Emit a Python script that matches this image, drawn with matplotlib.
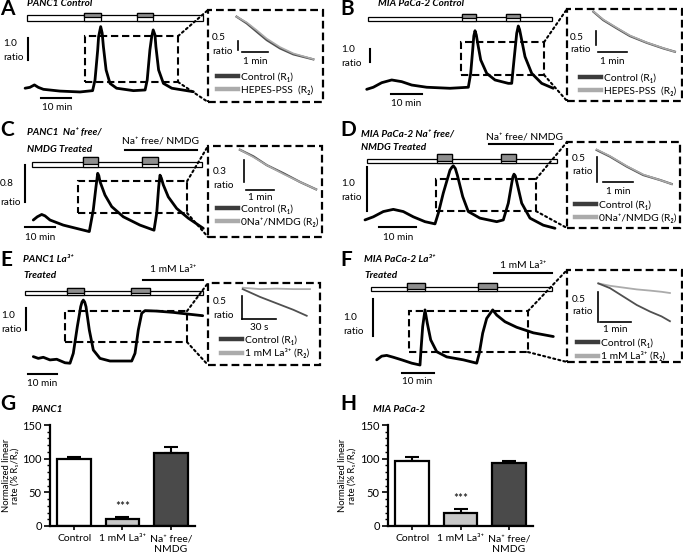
import matplotlib
matplotlib.use("Agg")
import matplotlib.pyplot as plt
from matplotlib.patches import Rectangle, ConnectionPatch
from matplotlib.lines import Line2D
from matplotlib.ticker import MultipleLocator

plt.rcParams.update({
    "font.family": ["Lato", "DejaVu Sans"],
    "font.size": 7,
})

W, H = 683, 554
DARK = "#3c3c3c"
LIGHT = "#ababab"
PULSE = "#8e8e8e"

# ---- traces: time (min), fura-2 ratio; insets: R1 / R2 ----
A_t = [1.7, 3.3, 4.8, 6.1, 7.8, 13.3, 20.0, 24.2, 25.0, 25.9, 26.2, 26.9, 27.4, 27.8, 28.7, 30.0,
       32.2, 37.8, 41.7, 42.4, 43.3, 43.9, 44.4, 45.0, 45.3, 46.2, 47.8, 50.6, 57.8]
A_r = [0.99, 1.03, 1.14, 1.03, 0.94, 0.86, 0.82, 0.88, 1.36, 2.73, 3.33, 3.79, 3.49, 2.88, 1.82, 1.21,
       0.99, 0.88, 0.91, 1.36, 2.73, 3.33, 3.64, 3.41, 2.88, 1.82, 1.21, 0.99, 0.83]
A_pulses = [(21.3, 27.0), (39.0, 44.3)]
A_in_t = [1.10, 1.49, 1.87, 2.26, 2.77, 3.28, 4.05]
A_in_r1 = [4.74, 4.37, 3.91, 3.44, 2.98, 2.65, 2.37]
A_in_r2 = [4.74, 4.42, 3.99, 3.52, 3.05, 2.70, 2.38]

B_t = [2.16, 4.29, 7.0, 10.23, 13.45, 16.68, 21.52, 29.03, 34.94, 35.71, 36.35, 36.71, 37.10, 37.52,
       37.97, 38.94, 40.87, 43.55, 47.84, 48.94, 49.68, 50.55, 51.06, 51.48, 51.94, 53.23, 55.39,
       58.61, 62.35]
B_r = [1.59, 1.75, 2.10, 2.31, 2.18, 1.92, 1.75, 1.67, 1.75, 2.82, 4.62, 5.69, 6.10, 5.77,
       5.13, 3.85, 2.82, 2.31, 2.05, 2.05, 3.85, 5.90, 6.46, 6.19, 5.64, 4.10, 2.82,
       2.05, 1.67]
B_pulses = [(32.9, 37.4), (47.1, 51.6)]
B_in_t = [0.91, 1.25, 1.71, 2.17, 2.75, 3.32, 3.72]
B_in_r1 = [3.19, 2.89, 2.60, 2.32, 2.08, 1.88, 1.76]
B_in_r2 = [3.20, 2.91, 2.62, 2.34, 2.09, 1.89, 1.76]

C_t = [4.43, 5.77, 7.23, 8.33, 10.0, 14.43, 20.0, 23.1, 24.43, 25.33, 25.9, 26.27, 26.67, 28.33,
       30.57, 34.43, 40.0, 44.67, 45.57, 46.23, 46.67, 47.1, 47.77, 49.43, 52.23, 56.1, 61.1]
C_r = [0.54, 0.61, 0.66, 0.63, 0.54, 0.43, 0.34, 0.29, 0.76, 1.26, 1.55, 1.50, 1.37, 1.08,
       0.83, 0.61, 0.43, 0.32, 0.69, 1.26, 1.51, 1.45, 1.30, 1.04, 0.79, 0.58, 0.36]
C_pulses = [(21.0, 26.0), (40.7, 46.0)]
C_in_t = [1.14, 1.62, 2.10, 2.69, 3.29, 3.86]
C_in_r1 = [1.19, 1.10, 0.98, 0.87, 0.75, 0.65]
C_in_r2 = [1.19, 1.09, 0.98, 0.86, 0.75, 0.65]

D_t = [1.35, 3.59, 6.30, 9.0, 11.70, 14.41, 17.57, 20.27, 21.16, 22.51, 24.32, 24.86, 25.22, 25.76,
       26.30, 27.76, 29.27, 32.43, 36.95, 38.73, 40.08, 41.0, 41.32, 41.62, 41.97, 42.35, 43.70,
       45.95, 49.54, 52.70]
D_r = [0.57, 0.64, 0.76, 0.81, 0.76, 0.64, 0.53, 0.48, 0.72, 1.18, 1.70, 1.77, 1.80, 1.74,
       1.59, 1.10, 0.76, 0.61, 0.53, 0.57, 0.95, 1.40, 1.55, 1.61, 1.57, 1.44, 0.95,
       0.61, 0.45, 0.38]
D_pulses = [(20.8, 24.86), (38.1, 42.16)]
D_in_t = [0.99, 1.43, 1.99, 2.54, 3.10, 3.49]
D_in_r1 = [1.56, 1.43, 1.23, 1.06, 0.96, 0.88]
D_in_r2 = [1.57, 1.44, 1.24, 1.07, 0.96, 0.88]

E_t = [4.59, 6.31, 8.03, 10.34, 12.66, 15.52, 17.24, 18.38, 19.76, 20.93, 21.38, 21.83, 22.31,
       22.76, 23.90, 25.28, 27.59, 31.03, 38.52, 39.66, 40.79, 41.97, 43.10, 47.14, 52.86, 57.48, 63.0]
E_r = [1.29, 1.21, 1.26, 1.14, 1.17, 1.01, 0.99, 1.44, 2.65, 3.56, 3.77, 3.86, 3.77,
       3.56, 2.50, 1.59, 1.21, 1.09, 1.09, 1.44, 2.50, 3.26, 3.38, 3.36, 3.30, 3.23, 3.15]
E_pulses = [(16.2, 22.1), (38.3, 44.8)]
E_in_t = [30.6, 45.9, 60.6, 75.3, 87.1]          # seconds
E_in_r1 = [1.65, 1.48, 1.34, 1.20, 1.07]
E_in_t2 = [30.6, 45.9, 60.6, 75.3, 90.0]
E_in_r2 = [1.68, 1.65, 1.66, 1.65, 1.65]

F_t = [5.22, 6.78, 8.34, 10.41, 13.03, 16.16, 18.75, 19.06, 19.59, 20.31, 21.03, 22.09, 23.97,
       27.09, 32.28, 36.47, 37.28, 38.34, 39.59, 41.47, 42.72, 45.31, 48.97, 54.16, 60.41]
F_r = [0.68, 0.78, 0.80, 0.75, 0.68, 0.59, 0.54, 0.95, 1.58, 2.03, 1.67, 1.22, 0.90,
       0.76, 0.68, 0.59, 0.86, 1.40, 1.80, 2.03, 1.89, 1.71, 1.56, 1.41, 1.31]
F_pulses = [(14.7, 20.3), (36.9, 42.8)]
F_in_t = [1.01, 1.39, 1.82, 2.25, 2.68, 3.05, 3.32]
F_in_r1 = [1.31, 1.23, 1.09, 0.95, 0.84, 0.76, 0.68]
F_in_r2 = [1.31, 1.27, 1.24, 1.21, 1.19, 1.17, 1.15]

# ---- bar summary (normalized linear rate, % R1/R2) ----
conditions = ["Control", "1 mM La³⁺", "Na⁺ free/\nNMDG"]
G_mean = [99, 10, 108]
G_sem = [3.5, 3.5, 10]
H_mean = [97, 19, 94]
H_sem = [6, 6, 3]
bar_colors = ["white", "#c8c8c8", "#4a4a4a"]


fig = plt.figure(figsize=(W / 100, H / 100), dpi=100)


def box(x0, y0, x1, y1):
    return [x0 / W, 1 - y1 / H, (x1 - x0) / W, (y1 - y0) / H]


def ftext(x, y, s, **kw):
    kw.setdefault("va", "center")
    kw.setdefault("ha", "left")
    fig.text(x / W, 1 - y / H, s, **kw)


# layout of each trace panel (pixel boxes, px per min / per ratio unit, annotation positions)
LAYOUT = {
    "A": dict(box=(20, 8, 205, 110), ppm=3.0, ppr=22, sol=(2.3, 61.0, 4.05, 4.32, 4.41),
              rect=(21.7, 52.7, 1.27, 3.36), vbar=(2.67, 2.27, 3.27), hbar=(7, 17, 0.545),
              treat=None, ibox=(208, 10, 323, 102), ippm=26, ippr=18,
              ivbar=(1.15, 2.89, 3.39), ihbar=(1.31, 2.31, 2.78)),
    "B": dict(box=(360, 8, 560, 110), ppm=3.1, ppr=13, sol=(2.58, 61.9, 6.87, 7.18, 7.38),
              rect=(32.6, 59.4, 2.69, 5.23), vbar=(3.2, 3.69, 4.69), hbar=(10, 20, 1.23),
              treat=None, ibox=(567, 9, 682, 101), ippm=29, ippr=28,
              ivbar=(1.0, 2.0, 2.5), ihbar=(1.07, 2.07, 1.75)),
    "C": dict(box=(20, 150, 205, 245), ppm=3.0, ppr=46.25, sol=(4.0, 60.7, 1.69, 1.79, 1.90),
              rect=(19.3, 55.7, 0.69, 1.38), vbar=(1.67, 0.93, 1.73), hbar=(1.67, 11.67, 0.39),
              treat=(35, 59, 2.05), ibox=(208, 146, 322, 237), ippm=28, ippr=73.3,
              ivbar=(1.29, 0.75, 1.05), ihbar=(1.36, 2.36, 0.64)),
    "D": dict(box=(360, 150, 560, 245), ppm=3.7, ppr=44, sol=(1.89, 53.24, 1.86, 1.95, 2.07),
              rect=(20.54, 47.57, 0.77, 1.5), vbar=(1.89, 0.77, 1.77), hbar=(5.14, 15.14, 0.41),
              treat=(34.9, 52.2, 2.30), ibox=(567, 142, 680, 228), ippm=30, ippr=50,
              ivbar=(1.0, 0.92, 1.42), ihbar=(1.2, 2.2, 0.92)),
    "E": dict(box=(20, 280, 205, 385), ppm=2.9, ppr=22, sol=(1.72, 63.1, 4.09, 4.27, 4.41),
              rect=(15.52, 57.59, 1.95, 3.36), vbar=(2.07, 2.5, 3.5), hbar=(2.76, 12.76, 0.5),
              treat=(42.4, 63.1, 4.77), ibox=(208, 283, 320, 365), ippm=34 / 30, ippr=46,
              ivbar=(30, 1.0, 1.5), ihbar=(30, 60, 1.0)),
    "F": dict(box=(360, 280, 560, 385), ppm=3.2, ppr=37, sol=(3.44, 60.0, 2.54, 2.65, 2.76),
              rect=(15.3, 52.5, 0.89, 2.0), vbar=(4.06, 1.32, 2.32), hbar=(13.1, 23.1, 0.32),
              treat=(41.9, 60.0, 3.03), ibox=(567, 270, 682, 362), ippm=31, ippr=60,
              ivbar=(1.0, 0.67, 1.17), ihbar=(1.06, 2.06, 0.67)),
}


def trace_panel(key, t, r, pulses, in_t1, in_r1, in_t2, in_r2):
    L = LAYOUT[key]
    x0, y0, x1, y1 = L["box"]
    ax = fig.add_axes(box(*L["box"]))
    ax.set_xlim(0, (x1 - x0) / L["ppm"])
    ax.set_ylim(0, (y1 - y0) / L["ppr"])
    ax.axis("off")
    ax.plot(t, r, color="black", lw=2.0, solid_joinstyle="round", solid_capstyle="round",
            clip_on=False)

    # solution bar with agonist pulses
    s0, s1, lo, hi, top = L["sol"]
    ax.add_patch(Rectangle((s0, lo), s1 - s0, hi - lo, fc="white", ec="black", lw=0.9, clip_on=False))
    for p0, p1 in pulses:
        ax.add_patch(Rectangle((p0, lo), p1 - p0, top - lo, fc="white", ec="black", lw=0.9, clip_on=False))
        glo = lo + 0.6 * (hi - lo)
        ax.add_patch(Rectangle((p0, glo), p1 - p0, top - glo, fc=PULSE, ec="black", lw=0.9, clip_on=False))
    if L["treat"]:
        a, b, y = L["treat"]
        ax.plot([a, b], [y, y], color="black", lw=1.5, clip_on=False)

    # scale bars
    vt, va, vb = L["vbar"]
    ax.plot([vt, vt], [va, vb], color="black", lw=1.5, clip_on=False)
    ha, hb, hy = L["hbar"]
    ax.plot([ha, hb], [hy, hy], color="black", lw=1.5, clip_on=False)

    # zoom region
    ra, rb, rc, rd = L["rect"]
    ax.add_patch(Rectangle((ra, rc), rb - ra, rd - rc, fill=False, ec="black", lw=1.5,
                           ls=(0, (3.5, 1.8)), clip_on=False))

    # inset
    ix0, iy0, ix1, iy1 = L["ibox"]
    ai = fig.add_axes(box(*L["ibox"]))
    ai.set_xlim(0, (ix1 - ix0) / L["ippm"])
    ai.set_ylim(0, (iy1 - iy0) / L["ippr"])
    ai.axis("off")
    ai.add_patch(Rectangle((0, 0), 1, 1, transform=ai.transAxes, fill=False, ec="black",
                           lw=1.6, ls=(0, (3.5, 1.8)), clip_on=False))
    if key in ("E", "F"):
        ai.plot(in_t2, in_r2, color=LIGHT, lw=1.3)
        ai.plot(in_t1, in_r1, color="#505050", lw=1.3)
    else:
        ai.plot(in_t1, in_r1, color="#505050", lw=1.6)
        ai.plot(in_t2, in_r2, color=LIGHT, lw=1.2)
    vt, va, vb = L["ivbar"]
    ai.plot([vt, vt], [va, vb], color="black", lw=1.2)
    ha, hb, hy = L["ihbar"]
    ai.plot([ha, hb], [hy, hy], color="black", lw=1.2)

    for ya, yb in ((rd, 1), (rc, 0)):
        con = ConnectionPatch(xyA=(rb, ya), coordsA=ax.transData, xyB=(0, yb),
                              coordsB=ai.transAxes, ls=(0, (1, 1.5)), lw=1.5, color="black")
        fig.add_artist(con)
    return ax, ai


def inset_legend(x, y, labels):
    hdl = [Line2D([], [], color=DARK, lw=3.2), Line2D([], [], color=LIGHT, lw=3.2)]
    fig.legend(hdl, labels, loc="upper left", bbox_to_anchor=(x / W, 1 - y / H),
               frameon=False, fontsize=7.4, handlelength=2.0, handletextpad=0.3,
               labelspacing=0.35, borderpad=0, borderaxespad=0)


trace_panel("A", A_t, A_r, A_pulses, A_in_t, A_in_r1, A_in_t, A_in_r2)
trace_panel("B", B_t, B_r, B_pulses, B_in_t, B_in_r1, B_in_t, B_in_r2)
trace_panel("C", C_t, C_r, C_pulses, C_in_t, C_in_r1, C_in_t, C_in_r2)
trace_panel("D", D_t, D_r, D_pulses, D_in_t, D_in_r1, D_in_t, D_in_r2)
trace_panel("E", E_t, E_r, E_pulses, E_in_t, E_in_r1, E_in_t2, E_in_r2)
trace_panel("F", F_t, F_r, F_pulses, F_in_t, F_in_r1, F_in_t, F_in_r2)

# panel letters and titles
for lab, x, y in [("A", 0, 9), ("B", 340, 9), ("C", 0, 130), ("D", 340, 130),
                  ("E", 0, 260), ("F", 340, 260), ("G", 0, 404), ("H", 340, 404)]:
    ftext(x, y, lab, fontsize=15, fontweight="bold")

tkw = dict(fontsize=7.2, fontweight="bold", style="italic")
ftext(27, 4, "PANC1 Control", **tkw)
ftext(378, 4, "MIA PaCa-2 Control", **tkw)
ftext(27, 132, "PANC1  Na⁺ free/", **tkw)
ftext(27, 149, "NMDG Treated", **tkw)
ftext(361, 134, "MIA PaCa-2 Na⁺ free/", **tkw)
ftext(361, 148, "NMDG Treated", **tkw)
ftext(23, 260, "PANC1 La³⁺", **tkw)
ftext(23, 276, "Treated", **tkw)
ftext(364, 260, "MIA PaCa-2 La³⁺", **tkw)
ftext(364, 276, "Treated", **tkw)
ftext(32, 409, "PANC1", **tkw)
ftext(373, 409, "MIA PaCa-2", **tkw)

ftext(161, 141, "Na⁺ free/ NMDG", ha="center", fontsize=7.4)
ftext(524, 137, "Na⁺ free/ NMDG", ha="center", fontsize=7.4)
ftext(173, 270, "1 mM La³⁺", ha="center", fontsize=7.4)
ftext(523, 265, "1 mM La³⁺", ha="center", fontsize=7.4)

# scale-bar labels
for x, y, s in [(3, 44, "1.0"), (3, 57, "ratio"), (341, 50, "1.0"), (341, 63, "ratio"),
                (0, 183, "0.8"), (0, 202, "ratio"), (341, 183, "1.0"), (341, 198, "ratio"),
                (1, 316, "1.0"), (1, 330, "ratio"), (343, 318, "1.0"), (343, 331, "ratio"),
                (212, 38, "0.5"), (212, 52, "ratio"), (570, 37, "0.5"), (570, 50, "ratio"),
                (213, 172, "0.3"), (213, 186, "ratio"), (572, 158, "0.5"), (572, 172, "ratio"),
                (213, 302, "0.5"), (213, 315, "ratio"), (572, 300, "0.5"), (572, 312, "ratio")]:
    ftext(x, y, s, fontsize=7.2)
for x, y, s in [(57, 108, "10 min"), (406, 103, "10 min"), (40, 237, "10 min"),
                (398, 238, "10 min"), (42, 384, "10 min"), (417, 382, "10 min"),
                (255, 62, "1 min"), (612, 62, "1 min"), (260, 198, "1 min"),
                (618, 192, "1 min"), (259, 327, "30 s"), (615, 329, "1 min")]:
    ftext(x, y, s, ha="center", fontsize=7.2)

inset_legend(217, 72, ["Control (R₁)", "HEPES-PSS  (R₂)"])
inset_legend(580, 73, ["Control (R₁)", "HEPES-PSS  (R₂)"])
inset_legend(217, 204, ["Control (R₁)", "0Na⁺/NMDG (R₂)"])
inset_legend(575, 200, ["Control (R₁)", "0Na⁺/NMDG (R₂)"])
inset_legend(221, 335, ["Control (R₁)", "1 mM La³⁺ (R₂)"])
inset_legend(577, 338, ["Control (R₁)", "1 mM La³⁺ (R₂)"])


def bar_panel(pbox, means, sems, label_x):
    ax = fig.add_axes(box(*pbox))
    x = range(len(means))
    ax.errorbar(x, means, yerr=[[0] * len(sems), sems], fmt="none", ecolor="black",
                elinewidth=1.5, capsize=5, capthick=1.5, zorder=1)
    ax.bar(x, means, width=0.7, color=bar_colors, edgecolor="black", linewidth=1.6, zorder=2)
    ax.text(1, means[1] + sems[1] + 16, "***", ha="center", va="center", fontsize=8.5)
    ax.set_xlim(-0.5, 2.5)
    ax.set_ylim(0, 150)
    ax.set_yticks([0, 50, 100, 150])
    ax.yaxis.set_minor_locator(MultipleLocator(10))
    ax.set_xticks(list(x))
    ax.set_xticklabels(conditions, fontsize=7.5)
    ax.tick_params(axis="y", labelsize=8, width=1.2, length=4, pad=2)
    ax.tick_params(axis="y", which="minor", width=1, length=2.5)
    ax.tick_params(axis="x", width=1.2, length=3, pad=3)
    for sp in ("top", "right"):
        ax.spines[sp].set_visible(False)
    for sp in ("left", "bottom"):
        ax.spines[sp].set_linewidth(1.6)
    ax.set_ylabel("Normalized linear\nrate (% R₁/R₂)", fontsize=6.8, linespacing=1.0)
    ax.yaxis.set_label_coords(label_x, 0.5)
    return ax


bar_panel((50, 425, 195, 526), G_mean, G_sem, -0.21)
bar_panel((388, 425, 533, 526), H_mean, H_sem, -0.22)

fig.savefig("out.png", dpi=100)
